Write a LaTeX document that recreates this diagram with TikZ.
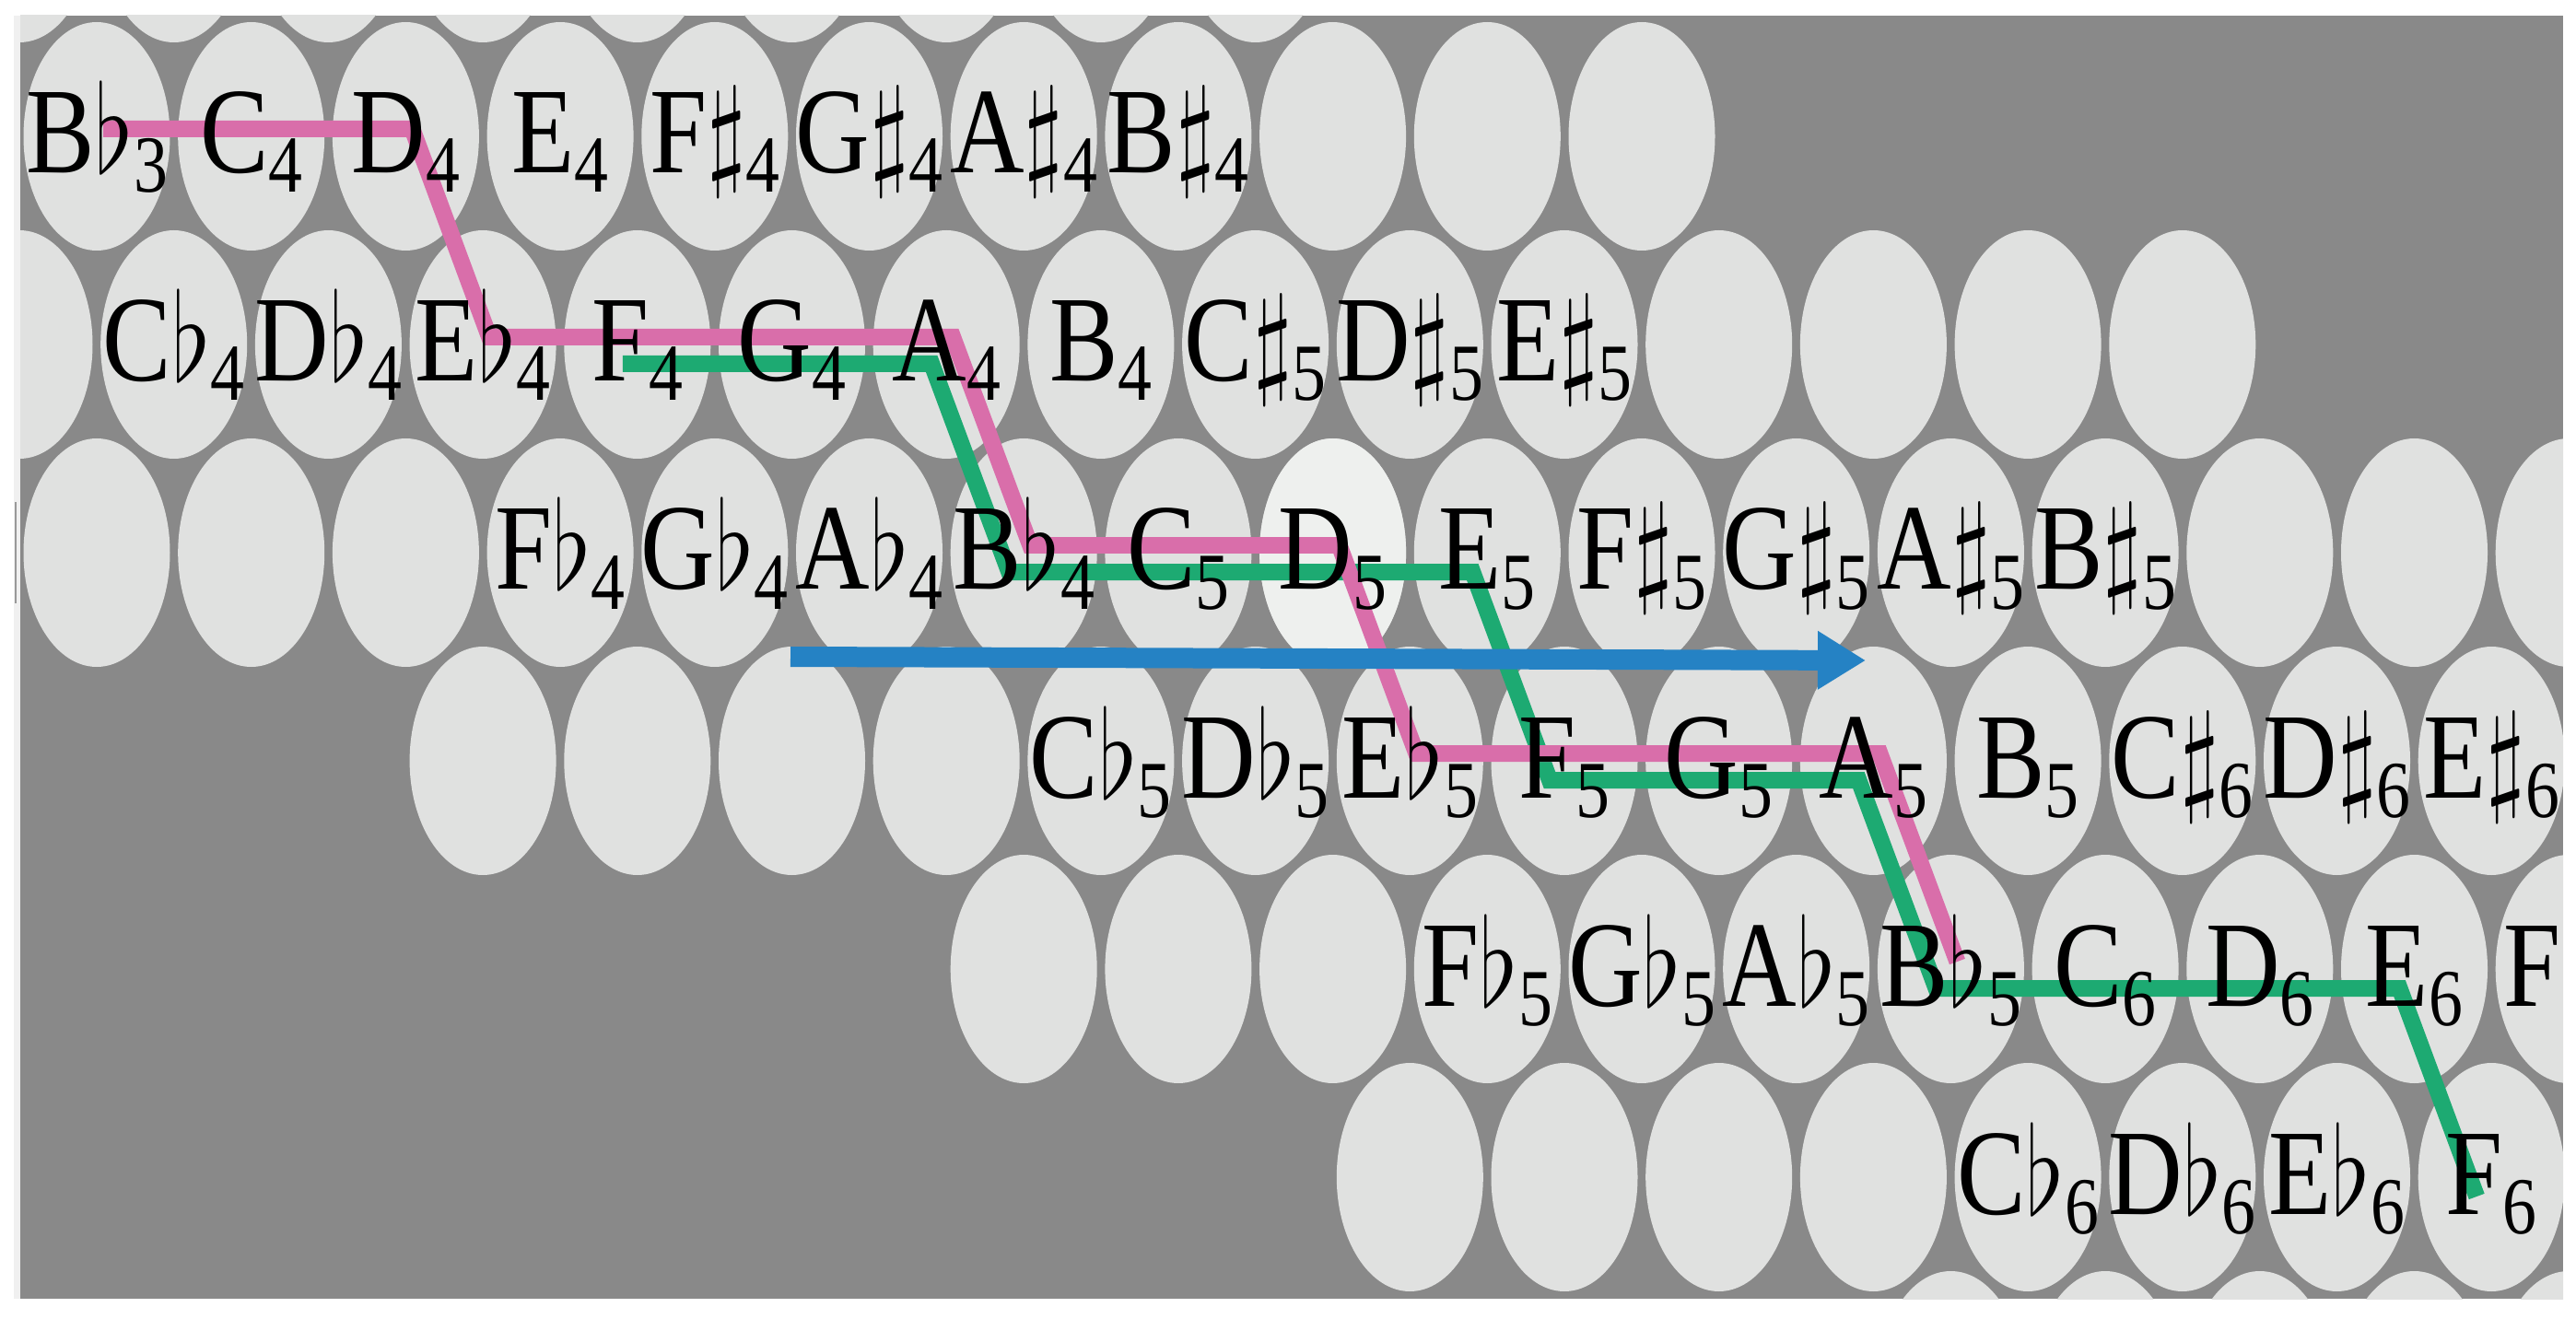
\documentclass[tikz,border=0pt]{standalone}
\usepackage{fix-cm}
\usepackage{fontspec}
\setmainfont{Liberation Serif}
\usetikzlibrary{shapes,arrows.meta}
\definecolor{bggray}{RGB}{137,137,137}
\definecolor{keygray}{RGB}{224,225,224}
\definecolor{keylight}{RGB}{238,240,238}
\definecolor{pinkc}{RGB}{217,110,170}
\definecolor{greenc}{RGB}{29,170,114}
\definecolor{bluec}{RGB}{37,130,196}
\newcommand{\nfl}{$\flat$}
\newcommand{\nsh}{$\sharp$}
\newcommand{\noc}[1]{\raisebox{-0.21cm}{\fontsize{25}{25}\selectfont#1}}

\begin{document}
\begin{tikzpicture}
\tikzstyle{button}=[ellipse,fill=keygray,minimum width=1.59cm,minimum height=2.48cm,inner sep=0pt]
\tikzstyle{notename}=[inner sep=0pt,anchor=base,yshift=-0.4cm,font=\fontsize{37.8}{37.8}\selectfont]
\tikzstyle{pinkpos}=[xshift=0.07cm,yshift=0.08cm]
\tikzstyle{greenpos}=[xshift=-0.16cm,yshift=-0.21cm]
\tikzstyle{pinkline}=[draw=pinkc,line width=0.18cm]
\tikzstyle{greenline}=[draw=greenc,line width=0.18cm]
\tikzstyle{bluearrow}=[draw=bluec,line width=0.22cm,-{Triangle[length=0.52cm,width=0.6cm]}]
\useasboundingbox[fill=white] (0,0) rectangle (27.96,-14.32);
\fill[gray!12] (0.15,-0.17) rectangle (0.22,-14.10);
\fill[bggray] (0.22,-0.17) rectangle (27.82,-14.10);
\draw[gray!80,line width=0.02cm] (0.17,-5.45) -- (0.17,-6.55);
\begin{scope}
\clip (0.22,-0.17) rectangle (27.82,-14.10);
% buttons, row by row
\foreach \r/\a/\b/\o in {0/0/8/0.21,1/0/10/1.05,2/0/14/0.21,3/0/16/1.05,4/3/16/0.21,5/6/16/1.05,6/9/16/0.21,7/12/16/1.05}
  \foreach \k in {\a,...,\b}
    \node[button] (k\r-\k) at ({\o+1.677*\k},{-1.48-2.26*(\r-1)}) {};
\node[button,fill=keylight] (hl) at (k3-8) {};
% F major
\draw[greenline] ([greenpos]k2-4.center) -- ([greenpos]k2-6.center) -- ([greenpos]k3-6.center)
  -- ([greenpos]k3-9.center) -- ([greenpos]k4-10.center) -- ([greenpos]k4-12.center)
  -- ([greenpos]k5-12.center) -- ([greenpos]k5-15.center) -- ([greenpos]k6-16.center);
% B flat major
\draw[pinkline] ([pinkpos]k1-0.center) -- ([pinkpos]k1-2.center) -- ([pinkpos]k2-3.center)
  -- ([pinkpos]k2-6.center) -- ([pinkpos]k3-6.center) -- ([pinkpos]k3-8.center)
  -- ([pinkpos]k4-9.center) -- ([pinkpos]k4-12.center) -- ([pinkpos]k5-12.center);
% shift by a fifth
\coordinate (fifthL) at (8.58,-7.13);
\coordinate (fifthR) at (20.25,-7.17);
\draw[bluearrow] (fifthL) -- (fifthR);
% note names
\foreach \r/\k/\t in {1/0/B\nfl\noc{3},1/1/C\noc{4},1/2/D\noc{4},1/3/E\noc{4},1/4/F\nsh\noc{4},1/5/G\nsh\noc{4},1/6/A\nsh\noc{4},1/7/B\nsh\noc{4},
  2/1/C\nfl\noc{4},2/2/D\nfl\noc{4},2/3/E\nfl\noc{4},2/4/F\noc{4},2/5/G\noc{4},2/6/A\noc{4},2/7/B\noc{4},2/8/C\nsh\noc{5},2/9/D\nsh\noc{5},2/10/E\nsh\noc{5},
  3/3/F\nfl\noc{4},3/4/G\nfl\noc{4},3/5/A\nfl\noc{4},3/6/B\nfl\noc{4},3/7/C\noc{5},3/8/D\noc{5},3/9/E\noc{5},3/10/F\nsh\noc{5},3/11/G\nsh\noc{5},3/12/A\nsh\noc{5},3/13/B\nsh\noc{5},
  4/7/C\nfl\noc{5},4/8/D\nfl\noc{5},4/9/E\nfl\noc{5},4/10/F\noc{5},4/11/G\noc{5},4/12/A\noc{5},4/13/B\noc{5},4/14/C\nsh\noc{6},4/15/D\nsh\noc{6},4/16/E\nsh\noc{6},
  5/9/F\nfl\noc{5},5/10/G\nfl\noc{5},5/11/A\nfl\noc{5},5/12/B\nfl\noc{5},5/13/C\noc{6},5/14/D\noc{6},5/15/E\noc{6},5/16/F\nsh\noc{6},
  6/13/C\nfl\noc{6},6/14/D\nfl\noc{6},6/15/E\nfl\noc{6},6/16/F\noc{6}}
  \node[notename] (t\r-\k) at (k\r-\k) {\scalebox{0.84}[1]{\t}};
\end{scope}
\end{tikzpicture}
\end{document}
